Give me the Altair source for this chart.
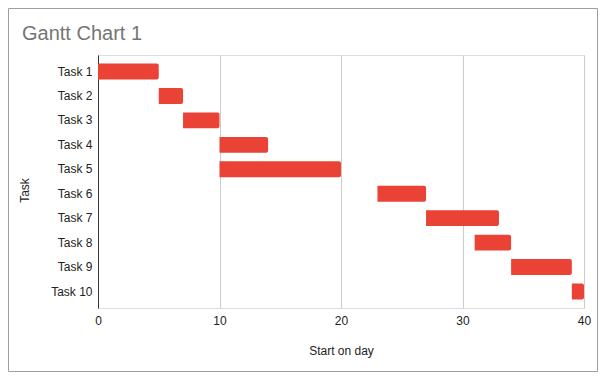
import altair as alt
import pandas as pd

tasks = ["Task 1", "Task 2", "Task 3", "Task 4", "Task 5",
         "Task 6", "Task 7", "Task 8", "Task 9", "Task 10"]
start_day = [0, 5, 7, 10, 10, 23, 27, 31, 34, 39]
end_day = [5, 7, 10, 14, 20, 27, 33, 34, 39, 40]
x_ticks = [0, 10, 20, 30, 40]
chart_title = "Gantt Chart 1"

df = pd.DataFrame({"task": tasks, "start": start_day, "end": end_day})

FONT = "Arial, Liberation Sans, sans-serif"
W, H = 486, 253
PL, PT = 90, 47
TOTAL_W, TOTAL_H = 590, 364

bars = alt.Chart(df).mark_bar(
    color="#ea4335",
    cornerRadiusTopRight=2,
    cornerRadiusBottomRight=2,
).encode(
    x=alt.X("start:Q",
            scale=alt.Scale(domain=[0, 40], nice=False, zero=False),
            axis=alt.Axis(values=x_ticks, title="Start on day", grid=True,
                          gridColor="#cccccc", domain=False, ticks=False,
                          labelPadding=7, labelFontSize=12, labelColor="#222222",
                          labelFont=FONT, titleFont=FONT, titleFontSize=12,
                          titleFontWeight="normal", titleColor="#222222",
                          titlePadding=19, labelFlush=False)),
    x2="end:Q",
    y=alt.Y("task:N", sort=tasks,
            scale=alt.Scale(paddingInner=0.35, paddingOuter=0.35),
            axis=alt.Axis(title="Task", domain=True, domainColor="#333333",
                          ticks=False, labelPadding=6, labelFontSize=12,
                          labelColor="#222222", labelFont=FONT, titleFont=FONT,
                          titleFontSize=12, titleFontWeight="normal",
                          titleColor="#222222", titleX=-69.5, titleY=135,
                          titleAngle=270, titleAlign="center",
                          titleBaseline="alphabetic")),
)

one = alt.Data(values=[{"t": chart_title}])

border = alt.Chart(one).mark_rect(
    fill=None, stroke="#9e9e9e", strokeWidth=1,
).encode(
    x=alt.value(-PL + 0.5), x2=alt.value(TOTAL_W - PL - 0.5),
    y=alt.value(-PT + 0.5), y2=alt.value(TOTAL_H - PT - 0.5),
)

title = alt.Chart(one).mark_text(
    align="left", baseline="alphabetic", fontSize=20, font=FONT,
    color="#757575",
).encode(
    text="t:N",
    x=alt.value(22 - 8 - PL),
    y=alt.value(40 - 8 - PT),
)

chart = alt.layer(border, bars, title).properties(
    width=W, height=H,
    autosize=alt.AutoSizeParams(type="none"),
    padding={"left": PL, "top": PT, "right": TOTAL_W - PL - W,
             "bottom": TOTAL_H - PT - H},
).configure_view(stroke=None).configure(background="white")

chart.save("out.html", embed_options={"renderer": "svg", "actions": False})
